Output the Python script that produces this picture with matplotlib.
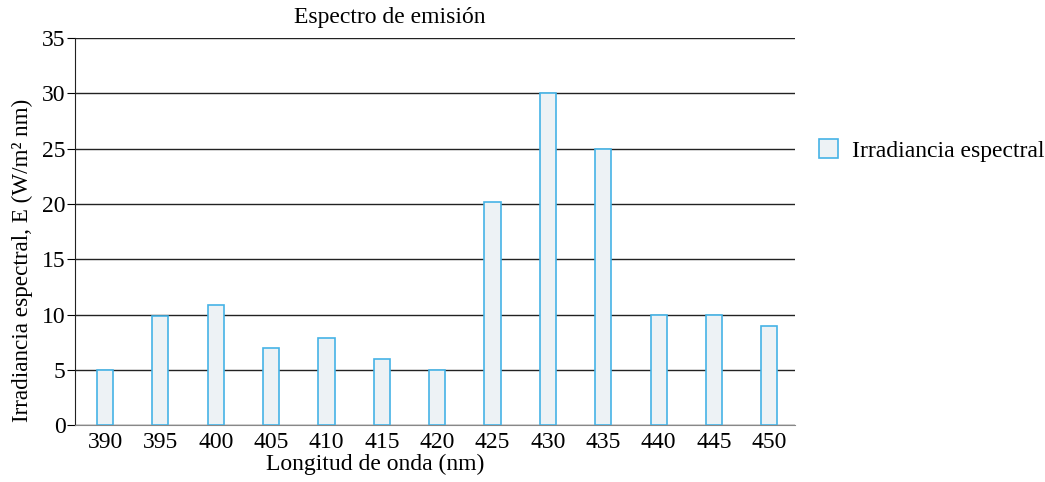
import numpy as np
import matplotlib
matplotlib.use("Agg")
import matplotlib.pyplot as plt

plt.rcParams['font.family'] = ['Liberation Serif', 'DejaVu Serif']

# wavelengths (nm) and spectral irradiance
longitudes = ['390', '395', '400', '405', '410', '415', '420',
              '425', '430', '435', '440', '445', '450']
irradiancia = [5, 9.9, 10.9, 7, 7.9, 6, 5, 20.2, 30, 25, 10, 10, 9]
y_ticks = [0, 5, 10, 15, 20, 25, 30, 35]

fig = plt.figure(figsize=(10.45, 4.82), dpi=100)
ax = fig.add_axes([0.072, 0.118, 0.689, 0.803])

x = np.arange(len(longitudes))
ax.bar(x, irradiancia, width=0.29, color='#edf2f5', edgecolor='#45b3e6',
       linewidth=1.2, label='Irradiancia espectral', zorder=3)

ax.set_ylim(0, 35)
ax.set_xlim(-0.54, len(longitudes) - 0.53)
ax.set_yticks(y_ticks)
ax.set_xticks(x)
ax.set_xticklabels(longitudes)
ax.yaxis.grid(True, color='#222222', linewidth=1.0, zorder=0)
ax.set_axisbelow(True)

for s in ['top', 'right']:
    ax.spines[s].set_visible(False)
ax.spines['left'].set_color('#222222')
ax.spines['bottom'].set_color('#888888')
ax.tick_params(axis='x', length=0, labelsize=17, pad=5)
ax.tick_params(axis='y', length=6, labelsize=17, direction='out', pad=1)

fig.text(390 / 1045, 1 - 18 / 482, 'Espectro de emisión', fontsize=17,
         ha='center', va='center')
ax.set_xlabel('Longitud de onda (nm)', fontsize=17)
ax.xaxis.set_label_coords((375 - 75) / 720, -(454 - 425) / 387)
ax.set_ylabel('Irradiancia espectral, E (W/m² nm)', fontsize=16.7)
ax.yaxis.set_label_coords(-(75 - 33) / 720, (425 - 260) / 387)

ax.legend(loc='center left', bbox_to_anchor=(1.003, 0.71), frameon=False,
          fontsize=17, handlelength=0.8, handleheight=0.85, handletextpad=0.6)

fig.savefig('out.png', dpi=100)
